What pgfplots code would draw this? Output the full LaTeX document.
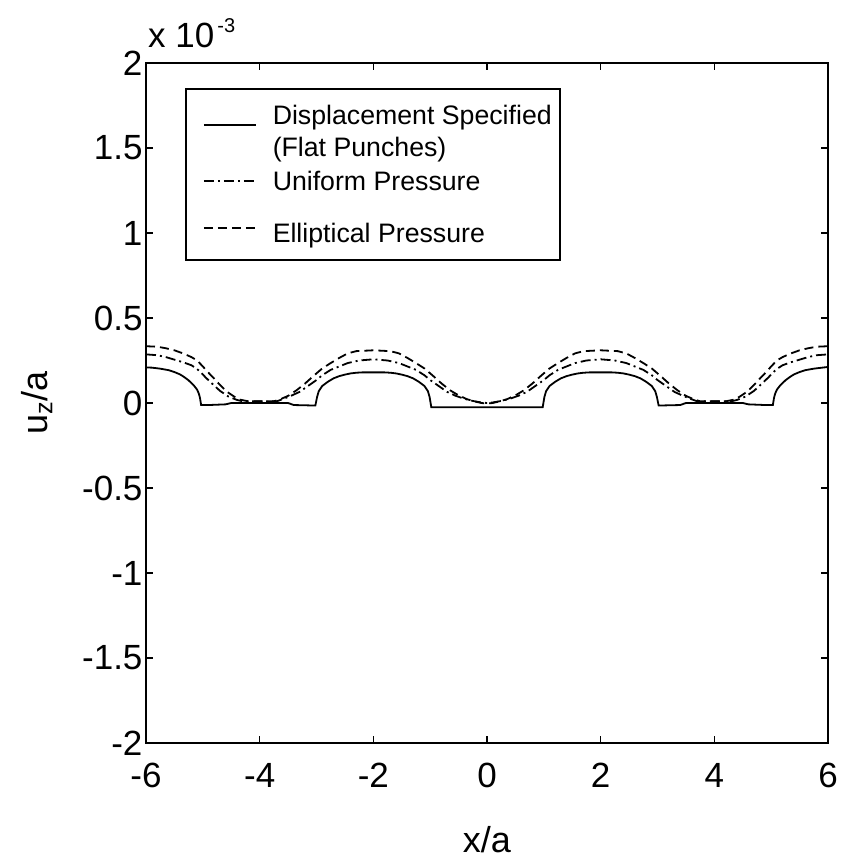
\documentclass[border=0pt]{standalone}
\usepackage{fontspec}
\setmainfont{Liberation Sans}
\usepackage{pgfplots}
\pgfplotsset{compat=1.18}

% legend samples, with a vertical offset per entry
\pgfplotsset{
  leg a/.style={legend image code/.code={\path (0pt,0pt); \draw[##1] (9pt,6pt) -- (61pt,6pt);}},
  leg b/.style={legend image code/.code={\path (0pt,0pt); \draw[##1] (9pt,0pt) -- (61pt,0pt);}},
  leg c/.style={legend image code/.code={\path (0pt,0pt); \draw[##1] (9pt,-4pt) -- (61pt,-4pt);}},
}

% u_z/a (in units of 1e-3) along the surface, three loading cases
\pgfplotstableread{
x      y
-6.00  0.209
-5.90  0.208
-5.75  0.202
-5.60  0.193
-5.50  0.182
-5.40  0.168
-5.33  0.153
-5.25  0.133
-5.16  0.104
-5.10  0.078
-5.07  0.055
-5.05  0.030
-5.03  -0.012
-4.90  -0.012
-4.60  -0.008
-4.50  0.000
-3.50  0.000
-3.40  -0.012
-3.02  -0.015
-2.99  0.035
-2.96  0.070
-2.90  0.100
-2.80  0.125
-2.70  0.145
-2.60  0.158
-2.50  0.167
-2.40  0.174
-2.30  0.178
-2.20  0.180
-1.80  0.180
-1.70  0.178
-1.60  0.174
-1.50  0.167
-1.40  0.158
-1.30  0.145
-1.20  0.125
-1.10  0.100
-1.04  0.070
-1.01  0.035
-0.98  -0.025
-0.50  -0.025
0.00   -0.025
0.50   -0.025
0.98   -0.025
1.01   0.035
1.04   0.070
1.10   0.100
1.20   0.125
1.30   0.145
1.40   0.158
1.50   0.167
1.60   0.174
1.70   0.178
1.80   0.180
2.20   0.180
2.30   0.178
2.40   0.174
2.50   0.167
2.60   0.158
2.70   0.145
2.80   0.125
2.90   0.100
2.96   0.070
2.99   0.035
3.02   -0.015
3.40   -0.012
3.50   0.000
4.50   0.000
4.60   -0.008
4.90   -0.012
5.03   -0.012
5.05   0.030
5.07   0.055
5.10   0.078
5.16   0.104
5.25   0.133
5.33   0.153
5.40   0.168
5.50   0.182
5.60   0.193
5.75   0.202
5.90   0.208
6.00   0.212
}\flatpunch

\pgfplotstableread{
x      y
-6.00  0.286
-5.80  0.281
-5.65  0.270
-5.50  0.255
-5.35  0.240
-5.20  0.222
-5.10  0.200
-5.02  0.175
-4.95  0.150
-4.85  0.118
-4.70  0.072
-4.55  0.038
-4.40  0.018
-4.30  0.010
-3.70  0.010
-3.60  0.022
-3.45  0.042
-3.30  0.065
-3.15  0.100
-3.00  0.135
-2.90  0.163
-2.75  0.195
-2.60  0.215
-2.45  0.235
-2.25  0.250
-2.00  0.257
-1.75  0.250
-1.55  0.235
-1.40  0.215
-1.25  0.195
-1.10  0.163
-1.00  0.135
-0.85  0.100
-0.70  0.065
-0.55  0.042
-0.40  0.025
-0.25  0.012
-0.10  0.003
0.00   0.000
0.10   0.003
0.25   0.012
0.40   0.025
0.55   0.042
0.70   0.065
0.85   0.100
1.00   0.135
1.10   0.163
1.25   0.195
1.40   0.215
1.55   0.235
1.75   0.250
2.00   0.257
2.25   0.250
2.45   0.235
2.60   0.215
2.75   0.195
2.90   0.163
3.00   0.135
3.15   0.100
3.30   0.065
3.45   0.042
3.60   0.022
3.70   0.010
4.30   0.010
4.40   0.018
4.55   0.038
4.70   0.072
4.85   0.118
4.95   0.150
5.02   0.175
5.10   0.200
5.20   0.222
5.35   0.240
5.50   0.255
5.65   0.270
5.80   0.281
6.00   0.286
}\uniform

\pgfplotstableread{
x      y
-6.00  0.334
-5.80  0.331
-5.65  0.322
-5.50  0.310
-5.35  0.292
-5.20  0.270
-5.10  0.250
-5.00  0.215
-4.90  0.178
-4.80  0.143
-4.68  0.100
-4.57  0.065
-4.45  0.038
-4.35  0.020
-4.20  0.010
-3.75  0.010
-3.65  0.020
-3.50  0.042
-3.35  0.075
-3.20  0.115
-3.05  0.160
-2.90  0.203
-2.75  0.235
-2.60  0.265
-2.45  0.292
-2.30  0.305
-2.00  0.310
-1.70  0.305
-1.55  0.292
-1.40  0.265
-1.25  0.235
-1.10  0.203
-0.95  0.160
-0.80  0.115
-0.65  0.075
-0.50  0.045
-0.35  0.022
-0.20  0.008
-0.10  0.000
0.00   -0.003
0.10   0.000
0.20   0.008
0.35   0.022
0.50   0.045
0.65   0.075
0.80   0.115
0.95   0.160
1.10   0.203
1.25   0.235
1.40   0.265
1.55   0.292
1.70   0.305
2.00   0.310
2.30   0.305
2.45   0.292
2.60   0.265
2.75   0.235
2.90   0.203
3.05   0.160
3.20   0.115
3.35   0.075
3.50   0.042
3.65   0.020
3.75   0.010
4.20   0.010
4.35   0.020
4.45   0.038
4.57   0.065
4.68   0.100
4.80   0.143
4.90   0.178
5.00   0.215
5.10   0.250
5.20   0.270
5.35   0.292
5.50   0.310
5.65   0.322
5.80   0.331
6.00   0.334
}\elliptic

\begin{document}
\begin{tikzpicture}
\useasboundingbox (-146pt,-116pt) rectangle (696pt,743pt);
\begin{axis}[
  at={(0pt,0pt)}, anchor=south west,
  width=682pt, height=680pt, scale only axis,
  xmin=-6, xmax=6, ymin=-2, ymax=2,
  xtick={-6,-4,-2,0,2,4,6},
  xticklabels={-6,-4,-2,0,2,4,6},
  ytick={-2,-1.5,-1,-0.5,0,0.5,1,1.5,2},
  yticklabels={-2,-1.5,-1,-0.5,0,0.5,1,1.5,2},
  tick align=inside,
  major tick length=7pt,
  axis line style={line width=2pt},
  every tick/.style={black, line width=1.5pt},
  ticklabel style={font=\fontsize{35}{42}\selectfont},
  xticklabel style={anchor=center, yshift=-32pt},
  xlabel={x/a},
  ylabel={u\textsubscript{z}/a},
  label style={font=\fontsize{36}{43}\selectfont},
  xlabel style={at={(axis description cs:0.5,-0.1426)}, anchor=center},
  ylabel style={at={(axis description cs:-0.16,0.5)}, anchor=center, rotate=0},
  legend cell align=left,
  legend style={
    at={(0.0575,0.963)}, anchor=north west,
    draw=black, line width=1.5pt,
    font=\fontsize{26.7}{32}\selectfont,
    inner xsep=8pt, inner ysep=16pt,
    nodes={inner sep=0pt},
    row sep=13pt,
    /tikz/every odd column/.append style={column sep=16pt},
  },
]
\addplot[black, line width=1.8pt, leg a] table[x=x, y=y] {\flatpunch};
\addlegendentry[align=left]{Displacement Specified\\(Flat Punches)}
\addplot[black, line width=1.8pt, leg b, dash pattern=on 10pt off 4pt on 2pt off 4pt] table[x=x, y=y] {\uniform};
\addlegendentry{Uniform Pressure}
\addplot[black, line width=1.8pt, leg c, dash pattern=on 9pt off 5pt] table[x=x, y=y] {\elliptic};
\addlegendentry{\rule[-22pt]{0pt}{60pt}Elliptical Pressure}
\end{axis}
\node[anchor=base west, inner sep=0pt, font=\fontsize{35}{42}\selectfont]
  at (2pt,695pt) {x 10\hspace{3pt}\raisebox{15pt}{\fontsize{20}{24}\selectfont -3}};
\end{tikzpicture}
\end{document}
